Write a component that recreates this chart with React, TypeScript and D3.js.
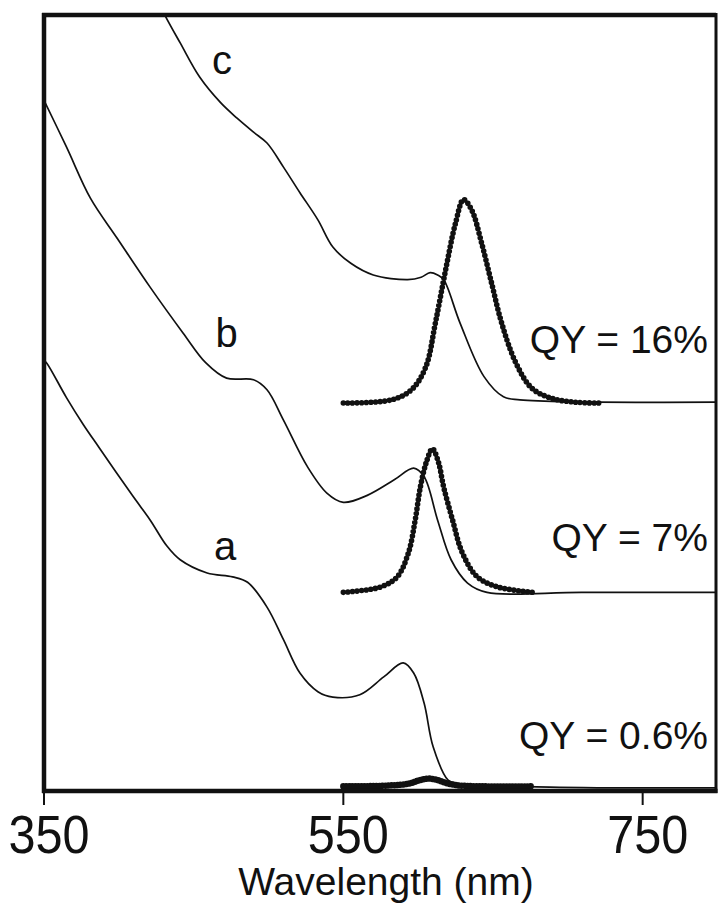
import React from "react";
import * as d3 from "d3";

// Wavelength (nm) / absorbance-emission (arbitrary units, offset traces)
const absA: [number, number][] = [
  [350, 55.5], [352, 55.1], [365, 50.7], [376, 47.3], [387, 44.2], [409, 38.1],
  [421, 34.9], [432, 31.6], [441, 29.8], [459, 28.1], [476, 27.6], [486, 26.9],
  [499, 23.7], [510, 19.5], [521, 15.2], [533, 12.8], [543, 12.1], [561, 12.4],
  [577, 14.7], [590, 16.5], [597, 15.2], [604, 11.3], [610, 5.7], [620, 1.4],
  [626, 1.0], [688, 0.5], [799, 0.4],
];
const absB: [number, number][] = [
  [350, 89.0], [365, 83.0], [381, 76.4], [399, 71.2], [421, 64.9], [443, 59.0],
  [458, 55.2], [472, 53.2], [490, 53.0], [499, 51.7], [510, 47.8], [526, 41.8],
  [539, 38.4], [550, 37.2], [566, 38.1], [584, 40.1], [597, 41.6], [604, 40.5],
  [613, 34.9], [622, 29.8], [633, 26.8], [646, 25.6], [709, 25.6], [799, 25.6],
];
const absC: [number, number][] = [
  [427.6, 101.3], [431, 99.9], [441, 96.4], [454, 92.0], [468, 88.7], [479, 86.7],
  [490, 84.9], [499, 83.5], [510, 80.4], [521, 77.1], [533, 73.6], [543, 70.1],
  [555, 68.0], [570, 66.5], [593, 65.9], [602, 66.2], [608, 66.8], [613, 66.5],
  [617, 65.9], [628, 60.3], [644, 53.4], [657, 50.8], [668, 50.4], [799, 50.1],
];
const emA: [number, number][] = [
  [550, 0.6], [580, 0.7], [595, 1.0], [601, 1.4], [607, 1.6], [613, 1.4],
  [619, 1.0], [628, 0.7], [677, 0.6],
];
const emB: [number, number][] = [
  [550, 25.6], [575, 26.3], [586, 27.6], [593.5, 30.7], [598, 34.9], [601.5, 39.2],
  [605.5, 42.4], [609.5, 44.1], [613.5, 42.4], [617, 39.2], [623, 34.9], [629.5, 30.7],
  [639.5, 27.6], [653, 26.3], [677, 25.6],
];
const emC: [number, number][] = [
  [550, 50.0], [582, 50.4], [595.5, 51.7], [605, 54.6], [611.5, 60.3], [618.3, 67.1],
  [625, 73.2], [630.3, 76.2], [635.7, 74.9], [642.4, 70.6], [649, 65.5], [655.8, 60.3],
  [665.2, 55.2], [676, 51.9], [689.3, 50.6], [705.3, 50.1], [720.7, 50.0],
];

const xTicks = [350, 550, 750];
const curveLabels = [
  { text: "a", nm: 471, v: 29.8 },
  { text: "b", nm: 472, v: 57.2 },
  { text: "c", nm: 469, v: 92.4 },
];
const qyLabels = [
  { text: "QY = 16%", v: 56.5 },
  { text: "QY = 7%", v: 30.9 },
  { text: "QY = 0.6%", v: 5.4 },
];

const W = 720;
const H = 905;
const left = 44, right = 716, top = 15, bottom = 791;

export default function App() {
  const x = d3.scaleLinear().domain([350, 799]).range([left, right]);
  const y = d3.scaleLinear().domain([0, 100]).range([bottom, top]);
  const line = d3
    .line<[number, number]>()
    .x((d) => x(d[0]))
    .y((d) => y(d[1]))
    .curve(d3.curveCatmullRom.alpha(0.5));

  const font = "'Liberation Sans', Arial, Helvetica, sans-serif";
  const ink = "#111";

  return (
    <svg
      width={W}
      height={H}
      style={{ position: "absolute", left: 0, top: 0, background: "#fff" }}
      fontFamily={font}
    >
      <defs>
        <clipPath id="plot">
          <rect x={left} y={top} width={right - left} height={bottom - top} />
        </clipPath>
      </defs>
      <rect x={0} y={0} width={W} height={H} fill="#fff" />
      <g clipPath="url(#plot)">
        {[absA, absB, absC].map((d, i) => (
          <path key={"abs" + i} d={line(d) || ""} fill="none" stroke={ink} strokeWidth={1.7} />
        ))}
        {[emB, emC].map((d, i) => (
          <path
            key={"em" + i}
            d={line(d) || ""}
            fill="none"
            stroke={ink}
            strokeWidth={5.6}
            strokeLinecap="round"
            strokeDasharray="0 4.6"
          />
        ))}
        <path
          d={line(emA) || ""}
          fill="none"
          stroke={ink}
          strokeWidth={6.5}
          strokeLinecap="round"
          strokeDasharray="0 3"
        />
      </g>
      {/* frame */}
      <line x1={left} x2={left} y1={top - 2} y2={bottom + 2} stroke={ink} strokeWidth={4.5} />
      <line x1={left - 2} x2={right} y1={top} y2={top} stroke={ink} strokeWidth={4.5} />
      <line x1={left - 2} x2={right + 1.5} y1={bottom} y2={bottom} stroke={ink} strokeWidth={4.5} />
      <line x1={right} x2={right} y1={top - 2} y2={bottom + 2} stroke={ink} strokeWidth={3} />
      {xTicks.map((t) => (
        <g key={t}>
          <line x1={x(t)} x2={x(t)} y1={bottom} y2={bottom + 14} stroke={ink} strokeWidth={2} />
          <text
            transform={`translate(${x(t) + 5},853) scale(0.9,1)`}
            textAnchor="middle"
            fontSize={54}
            fill={ink}
          >
            {t}
          </text>
        </g>
      ))}
      <text x={386} y={895} textAnchor="middle" fontSize={39} fill={ink}>
        Wavelength (nm)
      </text>
      {curveLabels.map((l) => (
        <text key={l.text} x={x(l.nm)} y={y(l.v)} textAnchor="middle" fontSize={40} fill={ink}>
          {l.text}
        </text>
      ))}
      {qyLabels.map((l) => (
        <text key={l.text} x={708} y={y(l.v)} textAnchor="end" fontSize={39} fill={ink}>
          {l.text}
        </text>
      ))}
    </svg>
  );
}
